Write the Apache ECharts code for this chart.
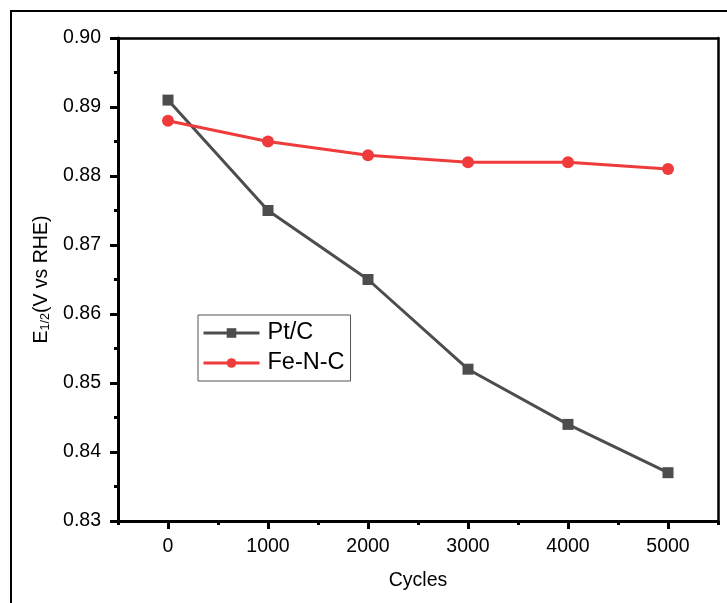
<!DOCTYPE html>
<html><head><meta charset="utf-8">
<script src="https://cdn.jsdelivr.net/npm/echarts@6/dist/echarts.min.js"></script>
<style>html,body{margin:0;padding:0;background:#fff}#c{width:727px;height:603px}</style>
</head><body><div id="c"></div>
<script>
const cycles = [0, 1000, 2000, 3000, 4000, 5000];
const ptC = [0.891, 0.875, 0.865, 0.852, 0.844, 0.837];
const feNC = [0.888, 0.885, 0.883, 0.882, 0.882, 0.881];
const xTicks = [0, 1000, 2000, 3000, 4000, 5000];
const xMinor = [-500, 500, 1500, 2500, 3500, 4500, 5500];
const yTicks = [0.83, 0.84, 0.85, 0.86, 0.87, 0.88, 0.89, 0.90];
const yMinor = [0.835, 0.845, 0.855, 0.865, 0.875, 0.885, 0.895];

const font = 'Liberation Sans, Arial, sans-serif';
const chart = echarts.init(document.getElementById('c'));
const pair = (xs, ys) => xs.map((x, i) => [x, ys[i]]);
chart.setOption({
  animation: false,
  backgroundColor: '#fff',
  grid: {left: 118, right: 9, top: 38, bottom: 82},
  graphic: [{type: 'rect', shape: {x: 11, y: 11, width: 900, height: 800},
    style: {fill: 'none', stroke: '#000', lineWidth: 2}, silent: true}],
  legend: {
    left: 198, top: 315, orient: 'vertical',
    data: ['Pt/C', 'Fe-N-C'],
    itemWidth: 56, itemHeight: 12, itemGap: 6,
    borderColor: '#555', borderWidth: 1, padding: [6, 6, 6, 4],
    lineStyle: {width: 3},
    textStyle: {fontFamily: font, fontSize: 23.5, color: '#000', padding: [0, 0, 0, 3]}
  },
  xAxis: [{
    type: 'value', min: -500, max: 5500, position: 'bottom',
    name: 'Cycles', nameLocation: 'middle', nameGap: 50,
    nameTextStyle: {fontFamily: font, fontSize: 19.5, color: '#000'},
    axisLine: {onZero: false, lineStyle: {color: '#000', width: 3}},
    axisTick: {show: true, inside: false, length: 8, lineStyle: {width: 3, color: '#000'}, customValues: xTicks},
    axisLabel: {customValues: xTicks, margin: 16, fontFamily: font, fontSize: 19.5, color: '#000',
      formatter: v => String(v)},
    splitLine: {show: false}
  }, {
    type: 'value', min: -500, max: 5500, position: 'bottom', gridIndex: 0,
    axisLine: {show: false, onZero: false},
    axisTick: {show: true, length: 4, lineStyle: {width: 3, color: '#000'}, customValues: xMinor},
    axisLabel: {show: false}, splitLine: {show: false}
  }, {
    type: 'value', min: -500, max: 5500, position: 'top',
    axisLine: {show: true, onZero: false, lineStyle: {color: '#000', width: 2.5}},
    axisTick: {show: false}, axisLabel: {show: false}, splitLine: {show: false}
  }],
  yAxis: [{
    type: 'value', min: 0.83, max: 0.90, position: 'left',
    name: '{a|E}{s|1/2}{a|(V vs RHE)}', nameLocation: 'middle', nameGap: 63, nameRotate: 90,
    nameTextStyle: {rich: {
      a: {fontFamily: font, fontSize: 19.5, color: '#000'},
      s: {fontFamily: font, fontSize: 12.5, color: '#000', verticalAlign: 'bottom', padding: [9, 0, 0, 0]}
    }},
    axisLine: {onZero: false, lineStyle: {color: '#000', width: 3}},
    axisTick: {show: true, length: 8, lineStyle: {width: 3, color: '#000'}, customValues: yTicks},
    axisLabel: {customValues: yTicks, margin: 17, fontFamily: font, fontSize: 19.5, color: '#000',
      formatter: v => v.toFixed(2)},
    splitLine: {show: false}
  }, {
    type: 'value', min: 0.83, max: 0.90, position: 'left', gridIndex: 0,
    axisLine: {show: false, onZero: false},
    axisTick: {show: true, length: 4, lineStyle: {width: 3, color: '#000'}, customValues: yMinor},
    axisLabel: {show: false}, splitLine: {show: false}
  }, {
    type: 'value', min: 0.83, max: 0.90, position: 'right',
    axisLine: {show: true, onZero: false, lineStyle: {color: '#000', width: 2.5}},
    axisTick: {show: false}, axisLabel: {show: false}, splitLine: {show: false}
  }],
  series: [{
    name: 'Pt/C', type: 'line', data: pair(cycles, ptC),
    symbol: 'rect', symbolSize: 11, color: '#4d4d4d',
    lineStyle: {width: 3, color: '#4d4d4d'}, itemStyle: {color: '#4d4d4d'}
  }, {
    name: 'Fe-N-C', type: 'line', data: pair(cycles, feNC),
    symbol: 'circle', symbolSize: 12, color: '#ef3b3b',
    lineStyle: {width: 3, color: '#ef3b3b'}, itemStyle: {color: '#ef3b3b'}
  }]
});
</script></body></html>
